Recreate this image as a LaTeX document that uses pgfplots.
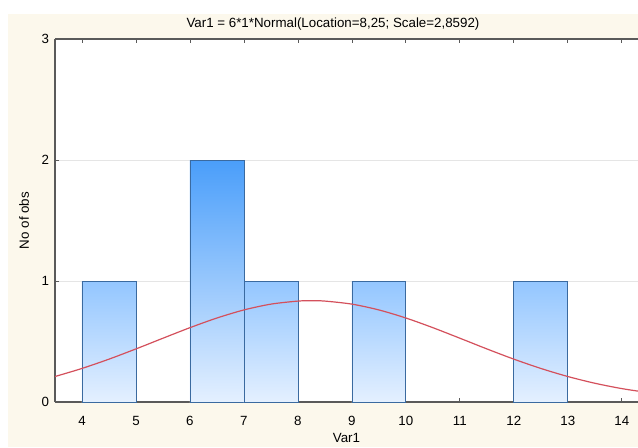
\documentclass[border=0pt]{standalone}
\usepackage{pgfplots}
\pgfplotsset{compat=1.18}
\usepackage{fontspec}
\setmainfont{Liberation Sans}
\definecolor{cream}{HTML}{FCF8EC}
\definecolor{barEdge}{HTML}{3A6AA0}
\definecolor{topDark}{HTML}{4A9EFA}
\definecolor{topMid}{HTML}{93C6FF}
\definecolor{barBot}{HTML}{E4F0FF}
\definecolor{curve}{HTML}{D4505C}
\definecolor{axisGray}{HTML}{5A5A5A}
\begin{document}
\begin{tikzpicture}[font=\fontsize{10}{12}\selectfont]
\useasboundingbox (-41.25pt,-33.75pt) rectangle (437.25pt,301.5pt);
\fill[cream] (-35.25pt,-33.75pt) rectangle (437.25pt,291pt);
\begin{axis}[
  at={(0,0)}, anchor=origin,
  scale only axis,
  width=437.25pt, height=272.25pt,
  xmin=3.5, xmax=14.3, ymin=0, ymax=3,
  axis background/.style={fill=white},
  axis x line=box, axis y line=left,
  x axis line style={-, draw=axisGray, line width=0.8pt},
  y axis line style={-, draw=axisGray, line width=0.8pt},
  xtick={4,5,...,14}, ytick={0,1,2,3},
  tick align=inside, major tick length=3pt,
  tick style={axisGray, line width=0.6pt},
  ymajorgrids, grid style={gray!20, line width=0.6pt},
  /pgf/number format/assume math mode=true,
  xticklabel style={yshift=-7pt},
  yticklabel style={xshift=-1pt},
  xlabel={Var1}, ylabel={No of obs},
  xlabel style={at={(rel axis cs:0.5,0)}, anchor=center, yshift=-27pt},
  ylabel style={at={(rel axis cs:0,0.5)}, anchor=center, yshift=23.25pt},
  title={Var1 = 6*1*Normal(Location=8,25; Scale=2,8592)},
  title style={at={(rel axis cs:0.4768,1)}, anchor=center, yshift=5.25pt},
  clip=true,
]
\addplot[ybar interval, draw=barEdge, line width=0.6pt, top color=topMid, bottom color=barBot] coordinates {(4,1) (5,1)};
\addplot[ybar interval, draw=barEdge, line width=0.6pt, top color=topDark, bottom color=barBot] coordinates {(6,2) (7,2)};
\addplot[ybar interval, draw=barEdge, line width=0.6pt, top color=topMid, bottom color=barBot] coordinates {(7,1) (8,1)};
\addplot[ybar interval, draw=barEdge, line width=0.6pt, top color=topMid, bottom color=barBot] coordinates {(9,1) (10,1)};
\addplot[ybar interval, draw=barEdge, line width=0.6pt, top color=topMid, bottom color=barBot] coordinates {(12,1) (13,1)};
\addplot[curve, line width=0.9pt, smooth, mark=none] coordinates {
(3.5,0.2106) (4,0.2774) (4.5,0.3542) (5,0.4388) (5.5,0.5272) (6,0.6143)
(6.5,0.6942) (7,0.7609) (7.5,0.8089) (8,0.8340) (8.25,0.8372) (8.5,0.8340)
(9,0.8089) (9.5,0.7609) (10,0.6942) (10.5,0.6143) (11,0.5272) (11.5,0.4388)
(12,0.3542) (12.5,0.2774) (13,0.2106) (13.5,0.1551) (14,0.1108) (14.5,0.0768)};
\end{axis}
\end{tikzpicture}
\end{document}
